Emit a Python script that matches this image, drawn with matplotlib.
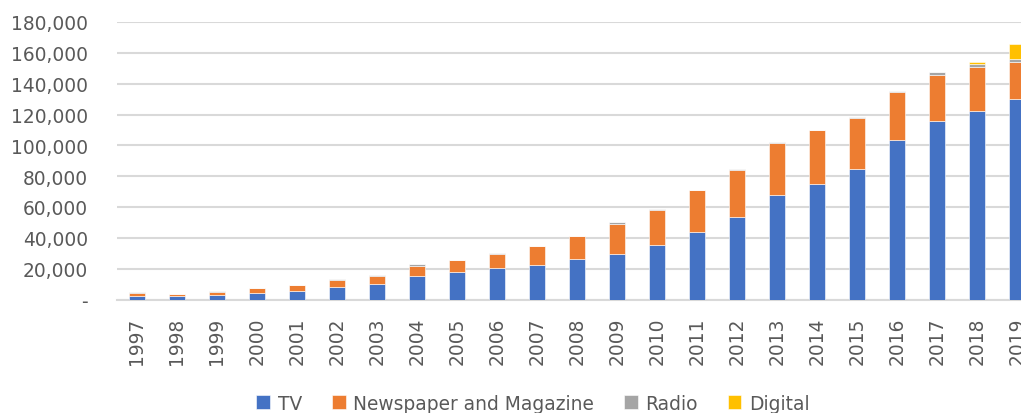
import matplotlib
matplotlib.use("Agg")
import matplotlib.pyplot as plt
from matplotlib.ticker import FuncFormatter
import numpy as np

years = [str(y) for y in range(1997, 2020)]
tv = [2500, 2100, 3100, 4400, 5300, 7900, 10100, 15000, 17600, 20200, 22600,
      26100, 29700, 35600, 44000, 53700, 67800, 75200, 84900, 103700, 115600,
      122100, 130100]
newspaper = [1500, 1300, 1800, 2900, 3900, 4800, 5400, 6900, 7800, 9500, 12100,
             15100, 19500, 22500, 26900, 30500, 33800, 34600, 33100, 31200,
             29700, 28600, 24000]
radio = [700, 300, 600, 400, 300, 300, 400, 900, 300, 300, 300, 300, 900, 300,
         300, 300, 300, 300, 300, 300, 2000, 2000, 2000]
digital = [0] * 21 + [1300, 9500]

series = [("TV", tv, "#4472C4"),
          ("Newspaper and Magazine", newspaper, "#ED7D31"),
          ("Radio", radio, "#A5A5A5"),
          ("Digital", digital, "#FFC000")]

text_color = "#595959"
fs = 13.4

fig = plt.figure(figsize=(10.21, 4.14), dpi=100)
ax = fig.add_axes([117 / 1021, 113.5 / 414, 920 / 1021, 277.5 / 414])

x = np.arange(len(years))
bottom = np.zeros(len(years))
for name, vals, color in series:
    v = np.array(vals, dtype=float)
    ax.bar(x, v, 0.4, bottom=bottom, color=color, label=name,
           edgecolor="white", linewidth=0.4, zorder=3)
    bottom += v

ax.set_xlim(-0.5, len(years) - 0.5)
ax.set_ylim(0, 180000)
ax.set_yticks(np.arange(0, 180001, 20000))
ax.yaxis.set_major_formatter(FuncFormatter(lambda v, p: "-" if v == 0 else f"{int(v):,}"))
ax.set_xticks(x)
ax.set_xticklabels(years, rotation=90)

ax.grid(axis="y", color="#D9D9D9", linewidth=1.5, zorder=0)
for s in ["top", "right", "left"]:
    ax.spines[s].set_visible(False)
ax.spines["bottom"].set_color("#D9D9D9")
ax.spines["bottom"].set_linewidth(1.5)
ax.tick_params(axis="both", length=0, labelsize=fs, labelcolor=text_color)
ax.tick_params(axis="y", pad=21)
ax.tick_params(axis="x", pad=12.5)

leg = fig.legend(loc="center", bbox_to_anchor=(0.522, 0.024), ncol=4,
                 frameon=False, fontsize=fs, handlelength=0.75,
                 handleheight=0.75, handletextpad=0.4, columnspacing=1.6,
                 borderaxespad=0)
for t in leg.get_texts():
    t.set_color(text_color)

fig.savefig("out.png", dpi=100)
